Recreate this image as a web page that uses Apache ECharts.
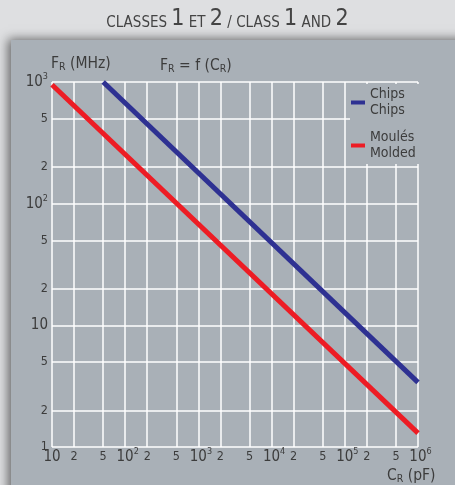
<!DOCTYPE html>
<html><head><meta charset="utf-8">
<script src="https://cdn.jsdelivr.net/npm/echarts@6/dist/echarts.min.js"></script>
<style>html,body{margin:0;padding:0;background:#dedfe1}#c{width:455px;height:485px}</style>
</head><body><div id="c"></div>
<script>
const FONT = '"Liberation Sans Narrow","DejaVu Sans Condensed",sans-serif';
const TXT = '#3c3c3c';
// Data
const xTicks = [10,20,50,100,200,500,1000,2000,5000,1e4,2e4,5e4,1e5,2e5,5e5,1e6];
const xTickLabels = ['10','2','5','10^2','2','5','10^3','2','5','10^4','2','5','10^5','2','5','10^6'];
const yTicks = [1,2,5,10,20,50,100,200,500,1000];
const yTickLabels = ['1','2','5','10','2','5','10^2','2','5','10^3'];
const seriesNames = ['Chips\nChips','Moulés\nMolded'];
const chipsC = [50, 1e6];
const chipsF = [1000, 3.4];
const mouldedC = [10, 1e6];
const mouldedF = [950, 1.3];

const lg = v => Math.log10(v);
function richLabel(s, axis){
  if (s.indexOf('^') >= 0){ const p = s.split('^'); return '{' + (axis === 'x' ? 'px' : 'b') + '|' + p[0] + '}{s|' + p[1] + '}'; }
  if (s.length > 1) return '{b|' + s + '}';
  return '{m|' + s + '}';
}
function fmt(ticks, labels, axis){
  return function(v){
    for (let i = 0; i < ticks.length; i++){ if (Math.abs(lg(ticks[i]) - v) < 1e-6) return richLabel(labels[i], axis); }
    return '';
  };
}
const rich = {
  b: {fontSize: 15, lineHeight: 20, fontFamily: FONT, color: TXT},
  px: {fontSize: 15, lineHeight: 20, fontFamily: FONT, color: TXT, padding: [0,0,0,5]},
  m: {fontSize: 12.5, lineHeight: 20, fontFamily: FONT, color: TXT},
  s: {fontSize: 9, lineHeight: 9, verticalAlign: 'top', fontFamily: FONT, color: TXT}
};
const splitLine = {show: true, lineStyle: {color: '#ffffff', width: 1.5}};
const pts = (cs, fs) => cs.map((c, i) => [lg(c), lg(fs[i])]);

const chart = echarts.init(document.getElementById('c'), null, {renderer: 'canvas'});
chart.setOption({
  backgroundColor: '#dedfe1',
  animation: false,
  graphic: [
    {type: 'rect', z: -10, shape: {x: 11, y: 40, width: 470, height: 470},
     style: {fill: '#a9b0b7', shadowBlur: 10, shadowOffsetX: -3, shadowOffsetY: -1, shadowColor: 'rgba(0,0,0,0.55)'}},
    {type: 'text', z: 10, left: 'center', top: 8,
     style: {text: '{sc|CLASSES }{n|1}{sc| ET }{n|2}{sc| / CLASS }{n|1}{sc| AND }{n|2}',
       rich: {sc: {fontSize: 15, fontFamily: FONT, fill: '#444', lineHeight: 26, verticalAlign: 'bottom'},
              n: {fontSize: 23, fontFamily: FONT, fill: '#444', lineHeight: 26, verticalAlign: 'bottom'}}}},
    {type: 'text', z: 10, x: 51, y: 55,
     style: {text: '{a|F}{r|R}{a| (MHz)}',
       rich: {a: {fontSize: 15.5, lineHeight: 18, fontFamily: FONT, fill: TXT},
              r: {fontSize: 10.5, lineHeight: 12, verticalAlign: 'bottom', fontFamily: FONT, fill: TXT}}}},
    {type: 'text', z: 10, x: 160, y: 57,
     style: {text: '{a|F}{r|R}{a| = f (C}{r|R}{a|)}',
       rich: {a: {fontSize: 15.5, lineHeight: 18, fontFamily: FONT, fill: TXT},
              r: {fontSize: 10.5, lineHeight: 12, verticalAlign: 'bottom', fontFamily: FONT, fill: TXT}}}},
    {type: 'text', z: 10, x: 387, y: 467,
     style: {text: '{a|C}{r|R}{a| (pF)}',
       rich: {a: {fontSize: 15.5, lineHeight: 18, fontFamily: FONT, fill: TXT},
              r: {fontSize: 10.5, lineHeight: 12, verticalAlign: 'bottom', fontFamily: FONT, fill: TXT}}}}
  ],
  grid: {left: 52, right: 37, top: 82, bottom: 38, containLabel: false},
  legend: {
    orient: 'vertical', left: 350, top: 84, padding: [2, 12, 2, 1],
    backgroundColor: '#a9b0b7', itemWidth: 14, itemHeight: 4, itemGap: 10, icon: 'rect',
    textStyle: {fontSize: 14, lineHeight: 16.5, fontFamily: FONT, color: TXT},
    data: seriesNames
  },
  xAxis: {
    type: 'value', min: lg(xTicks[0]), max: lg(xTicks[xTicks.length - 1]),
    axisLine: {show: false}, axisTick: {show: false, customValues: xTicks.map(lg)},
    axisLabel: {margin: 0, customValues: xTicks.map(lg), formatter: fmt(xTicks, xTickLabels, 'x'), rich: rich},
    splitLine: splitLine
  },
  yAxis: {
    type: 'value', min: lg(yTicks[0]), max: lg(yTicks[yTicks.length - 1]),
    axisLine: {show: false}, axisTick: {show: false, customValues: yTicks.map(lg)},
    axisLabel: {margin: 4, customValues: yTicks.map(lg), formatter: fmt(yTicks, yTickLabels, 'y'), rich: rich},
    splitLine: splitLine
  },
  series: [
    {name: seriesNames[0], type: 'line', data: pts(chipsC, chipsF), showSymbol: false, symbol: 'none',
     lineStyle: {color: '#2e3192', width: 5}, itemStyle: {color: '#2e3192'}},
    {name: seriesNames[1], type: 'line', data: pts(mouldedC, mouldedF), showSymbol: false, symbol: 'none',
     lineStyle: {color: '#ed1c24', width: 5}, itemStyle: {color: '#ed1c24'}}
  ]
});
</script></body></html>
